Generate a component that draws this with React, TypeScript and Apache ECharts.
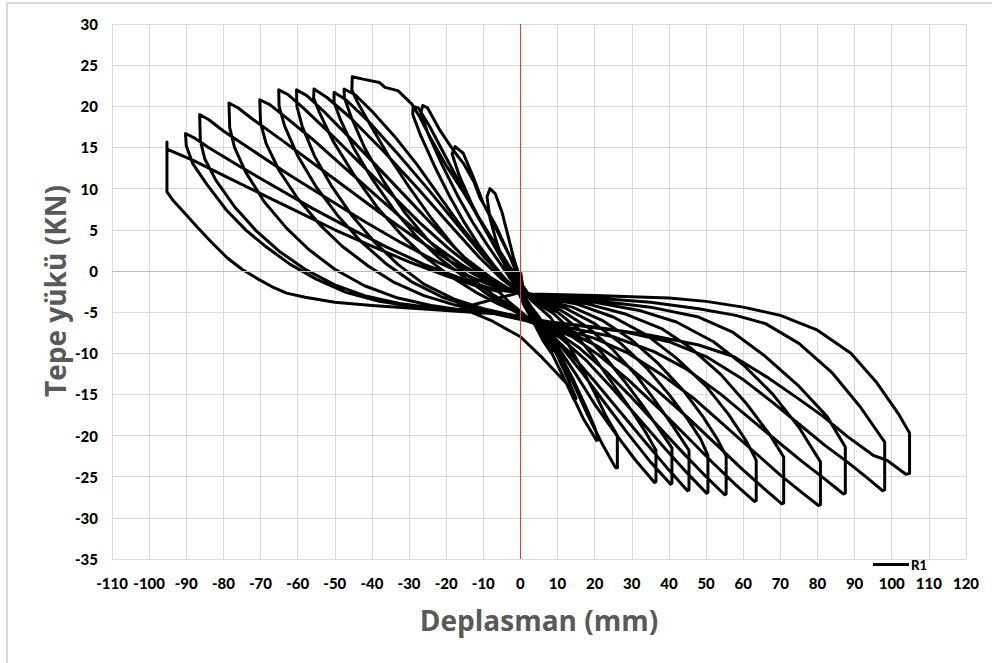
import React, { useEffect, useRef } from "react";
import * as echarts from "echarts";

type P = [number, number];

// Axis ticks
const xTicks = { min: -110, max: 120, interval: 10 };
const yTicks = { min: -35, max: 30, interval: 5 };
const xTitle = "Deplasman (mm)";
const yTitle = "Tepe yükü (KN)";
const seriesName = "R1";

// Hysteresis loops (displacement mm, load kN), in cycle order
const rightLobe01: P[] = [[1,-3],[3.5,-4.8],[6,-7.2],[8.8,-9.7],[8.2,-9.9],[6,-8.4],[3.5,-6.2],[1,-4.2]];
const leftLobe01: P[] = [[-0.5,-2.6],[-2.5,-1],[-4.5,1],[-6.5,3.6],[-8.2,6.4],[-9,9],[-8.2,10],[-6.8,9.4],[-5,7.2],[-3.3,4.2],[-1.8,1.5],[-0.6,-0.2],[0,-1.8]];
const rightLobe02: P[] = [[1,-3],[5,-6],[9,-9.4],[12.5,-12.8],[15,-15.5],[14.5,-15.7],[11.5,-12.8],[8,-9.6],[4.5,-6.6],[1.5,-4.6]];
const leftLobe02: P[] = [[0,-2.6],[-2,-0.8],[-5,1.4],[-9,4.6],[-13,8],[-16.5,11.6],[-18.4,14.2],[-17.6,15.1],[-15.4,14.3],[-12.7,11.4],[-10,8.2],[-6.3,4.9],[-2.8,1.7],[-0.6,-0.2],[0.3,-2.2]];
const rightLobe03: P[] = [[0.5,-3],[5,-5.6],[10,-9.6],[14,-13],[17.5,-16.4],[20,-19],[21,-20.5],[20.5,-20.6],[17,-18],[12.5,-13.7],[6,-10.6],[0,-8],[-8,-6],[-16,-4.5]];
const leftLobe03: P[] = [[0,-2.6],[-2,-1.4],[-5,0.6],[-9,3.2],[-13,6],[-17,9.2],[-21,12.8],[-25,16.8],[-26.8,19.2],[-26.3,20.1],[-25,19.8],[-21.7,17.1],[-18,14.6],[-15.4,13.1],[-12.5,10.8],[-10.9,8.9],[-8.5,7],[-6.4,5.3],[-2.8,1.7],[-1,-0.3],[0,-2]];
const rightLobe04: P[] = [[3,-3.6],[8,-5.6],[12,-8.2],[16,-11.4],[20,-14.8],[23,-17.6],[26.1,-20],[26.1,-23.9],[25.6,-23.9],[22,-21],[18,-17.4],[14,-13.4],[10,-9.8],[6,-7.2]];
const leftLobe04: P[] = [[0,-2.8],[-3,-1.6],[-7,0.6],[-11,3],[-15,5.8],[-19,9],[-23,12.6],[-27,16.6],[-29,19],[-28.9,20],[-27.5,19.8],[-24.5,17.6],[-21,14.6],[-17,11.2],[-13,7.8],[-9,4.6],[-5,1.6],[-2,-0.6],[0,-2]];
const rightLobe05: P[] = [[3,-3.5],[9,-5.2],[15,-7.8],[20,-10.6],[25,-13.8],[30,-17],[34,-19.8],[36.5,-21.8],[36.5,-25.6],[36.1,-25.7],[31,-23],[26,-20],[20,-16.2],[15,-12.6],[10,-9.2],[5,-6.8]];
const leftLobe05: P[] = [[-3,-3.8],[-7,-2],[-12,0.2],[-18,3],[-24,6.4],[-30,10.2],[-35,13.6],[-40,17.4],[-44,20.6],[-45.4,22],[-45.3,23.6],[-42.4,23.3],[-38,22.9],[-36.5,22.3],[-33,21.9],[-29.3,20.3],[-27,18.6],[-24.4,16.3],[-20,12.8],[-15.4,9.6],[-10,5.6],[-6.4,3],[-3,0.6],[-1,-0.7]];
const rightLobe06: P[] = [[3,-3.4],[10,-5],[16,-7.2],[22,-10],[28,-13.4],[33,-16.4],[37,-19],[40.8,-21.5],[40.8,-25.8],[40.4,-25.9],[35,-23.2],[29,-19.8],[23,-16.2],[17,-12.6],[11,-9.2],[6,-7]];
const leftLobe06: P[] = [[-2,-4.4],[-7,-3],[-13,-1],[-19,1.2],[-25,3.8],[-31,7],[-37,11],[-42,15],[-45.5,18.6],[-47.4,21],[-47.5,22.1],[-44.5,21.4],[-40,19.4],[-34,16.4],[-28,13],[-22,9.2],[-16,5.4],[-10,2],[-5,-0.6],[-1,-2.3]];
const rightLobe07: P[] = [[3,-3.3],[11,-4.8],[18,-6.8],[25,-9.6],[31,-12.6],[36,-15.6],[41,-18.8],[45.4,-21.8],[45.4,-26.6],[45,-26.7],[40,-24.2],[34,-21],[27,-17.2],[20,-13.4],[13,-9.8],[7,-7.2]];
const leftLobe07: P[] = [[-4,-4.2],[-9,-2.8],[-15,-0.8],[-22,1.6],[-28,4.2],[-34,7.4],[-40,11.2],[-45,15],[-48.5,18.4],[-50.2,20.5],[-50.2,21.7],[-47,20.8],[-41,18.2],[-33,14.2],[-25,10],[-17,5.6],[-10,1.8],[-4,-1],[-1,-2.3]];
const rightLobe08: P[] = [[3,-3.2],[12,-4.5],[20,-6.4],[27,-8.8],[34,-11.8],[40,-15],[45,-18],[48.5,-20.4],[50.5,-22.4],[50.5,-26.9],[50.1,-27],[45,-24.6],[39,-21.6],[32,-18],[25,-14.4],[18,-11],[11,-8.2],[6,-6.8]];
const leftLobe08: P[] = [[-2,-4.8],[-6,-4],[-12,-2.6],[-19,-0.6],[-26,1.8],[-32.5,4.6],[-38.7,7.8],[-45,11.8],[-50.5,15.8],[-54,19.1],[-55.7,21],[-55.6,22.1],[-52.2,21.1],[-46,18.7],[-37,14.6],[-28,10.2],[-19,5.6],[-11,1.6],[-5,-1],[-1,-2.4]];
const rightLobe09: P[] = [[3,-3.2],[14,-4.4],[22,-6],[30,-8.4],[37,-11.2],[44,-14.6],[49,-17.6],[53,-20.4],[55.4,-22.5],[55.4,-27.1],[55,-27.2],[50,-25],[44,-22.2],[37,-18.8],[30,-15.4],[23,-12.2],[16,-9.4],[9,-7.2]];
const leftLobe09: P[] = [[-4,-5.2],[-10,-4.6],[-18,-3.4],[-26,-1.6],[-33,0.8],[-39.5,3.6],[-45.5,6.8],[-51,10.4],[-55.5,14],[-58.8,17.6],[-60.2,20],[-60.3,22],[-57.5,21.3],[-53,19.4],[-46,16.2],[-38,12.4],[-30,8.6],[-22,4.8],[-15,1.6],[-8,-0.8],[-3,-2.2]];
const rightLobe10: P[] = [[3,-3.1],[15,-4],[25,-5.6],[34,-7.8],[42,-10.6],[50,-14],[56,-17.4],[61,-20.8],[63.5,-23],[63.5,-27.9],[63,-28],[58,-26],[52,-23.4],[45,-20.2],[37,-16.6],[29,-13.2],[21,-10.2],[14,-8],[7,-6.6]];
const leftLobe10: P[] = [[-6,-5.1],[-13,-4.4],[-21,-3.2],[-29,-1.4],[-36,0.8],[-43,3.6],[-49,6.6],[-55,10.2],[-60,14],[-63.5,17.6],[-65,20],[-65.1,22],[-62.5,21.4],[-58,19.6],[-51,16.6],[-43,13],[-35,9.4],[-27,5.8],[-19,2.6],[-12,0.1],[-5,-2]];
const rightLobe11: P[] = [[3,-3],[18,-4],[28,-5.2],[38,-7],[46,-9.4],[54,-12.6],[61,-16.2],[67,-19.8],[70.9,-22.6],[70.9,-28.2],[70.4,-28.3],[66,-26.6],[60,-24.2],[53,-21.2],[45,-17.8],[37,-14.6],[29,-11.6],[21,-9.2],[13,-7.4],[6,-6.5]];
const leftLobe11: P[] = [[-4,-5.2],[-10,-4.8],[-18,-4.1],[-26,-3],[-34,-1.4],[-41,0.6],[-48,3],[-54,5.6],[-60,8.8],[-65,12.2],[-68.5,15.5],[-70,18],[-70.2,20.8],[-67.5,20.2],[-63,18.6],[-56,16],[-48,12.8],[-40,9.6],[-32,6.4],[-24,3.4],[-16,0.8],[-9,-1.1],[-3,-2.5]];
const rightLobe12: P[] = [[3,-3],[20,-3.8],[32,-4.8],[42,-6.2],[52,-8.6],[60,-11.4],[68,-15],[75,-19],[80.8,-23.2],[80.8,-28.4],[80.3,-28.5],[76,-27],[70,-24.8],[63,-22],[55,-18.8],[47,-15.6],[38,-12.6],[29,-10],[20,-8.2],[11,-7],[5,-6.4]];
const leftLobe12: P[] = [[-7,-5.2],[-15,-4.8],[-24,-4.2],[-33,-3.3],[-42,-1.8],[-50,0.2],[-57,2.6],[-63,5.2],[-69,8.4],[-74,12],[-77,15],[-78.3,17.4],[-78.5,20.4],[-76,19.8],[-72,18.4],[-64,15.8],[-55,12.8],[-46,9.8],[-37,6.8],[-28,3.9],[-19,1.2],[-10,-1],[-4,-2.4]];
const rightLobe13: P[] = [[3,-3],[20,-3.6],[35,-4.4],[48,-5.6],[57,-7.4],[66,-10.4],[75,-14],[82.6,-17.7],[87.5,-21.4],[87.5,-27],[87,-27.1],[82,-25.3],[76,-23.2],[70,-21],[62,-18],[54,-15],[45,-12],[36,-9.8],[25,-8],[14,-7],[6,-6.4]];
const leftLobe13: P[] = [[-5,-5.2],[-12,-5],[-22,-4.6],[-32,-4],[-42,-3],[-50,-1.7],[-58,0.2],[-65,2.4],[-71,4.8],[-77,7.8],[-82,11],[-85,13.6],[-86.2,15.8],[-86.4,19],[-84,18.4],[-80,17],[-72,14.6],[-62,11.6],[-52,8.8],[-42,6],[-32,3.4],[-22,1],[-12,-1],[-5,-2.3]];
const rightLobe14: P[] = [[3,-2.8],[20,-3.3],[35,-3.8],[48,-4.6],[58,-5.4],[66,-6.4],[75,-8.8],[84,-12.4],[91.5,-16.5],[98.1,-20.8],[98.1,-26.6],[97.5,-26.7],[93,-25],[88,-23.2],[82,-21.2],[75,-18.6],[68,-16],[60,-13.2],[50,-10.4],[40,-8.6],[28,-7.4],[15,-6.6],[6,-6.2]];
const leftLobe14: P[] = [[-3,-5.3],[-9,-5.1],[-18,-4.8],[-28,-4.4],[-38,-3.7],[-47,-2.6],[-55,-1],[-62,0.8],[-68.4,2.9],[-73.8,4.9],[-79.2,7.4],[-84.6,10.6],[-88.2,13],[-90,15.2],[-90.2,16.7],[-88,16.2],[-84,15],[-76,12.8],[-66,10.2],[-56,7.6],[-46,5.2],[-36,2.9],[-26,0.8],[-16,-0.9],[-7,-2.3]];
const rightLobe15: P[] = [[3,-2.8],[20,-3],[40,-3.3],[50,-3.7],[60,-4.4],[70,-5.4],[80,-7.2],[89,-10],[96,-13.6],[102,-17.5],[104.8,-19.7],[104.8,-24.6],[103.8,-24.7],[98.7,-23],[95,-22.4],[88,-20.1],[81.6,-17.7],[75.4,-15.7],[66.4,-12.9],[57.4,-10.4],[48,-9],[35,-7.8],[20,-6.8],[8,-6.2]];
const leftLobe15: P[] = [[-3,-5.3],[-10,-5.1],[-20,-4.8],[-30,-4.5],[-40,-4.2],[-50,-3.8],[-58,-3.2],[-63,-2.7],[-67,-1.9],[-71,-0.9],[-75,0.2],[-79,1.6],[-83,3.4],[-87,5.3],[-91,7.3],[-93.6,8.6],[-95.2,9.6],[-95.2,15.65],[-95.2,14.8],[-88,13.4],[-80,11.6],[-70,9.4],[-60,7.2],[-50,5],[-40,3],[-30,1.1],[-20,-0.6],[-12,-1.8],[-5,-2.6]];

const lobes: P[][] = [
  rightLobe01, leftLobe01, rightLobe02, leftLobe02, rightLobe03, leftLobe03,
  rightLobe04, leftLobe04, rightLobe05, leftLobe05, rightLobe06, leftLobe06,
  rightLobe07, leftLobe07, rightLobe08, leftLobe08, rightLobe09, leftLobe09,
  rightLobe10, leftLobe10, rightLobe11, leftLobe11, rightLobe12, leftLobe12,
  rightLobe13, leftLobe13, rightLobe14, leftLobe14, rightLobe15, leftLobe15,
];

const tickFont = "Lato, 'Open Sans', sans-serif";
const titleFont = "'Open Sans', Lato, sans-serif";

export default function App() {
  const ref = useRef<HTMLDivElement>(null);
  useEffect(() => {
    if (!ref.current) return;
    const chart = echarts.init(ref.current, undefined, { renderer: "svg" });
    const data: P[] = [[0, 0]];
    lobes.forEach((l) => l.forEach((p) => data.push(p)));
    chart.setOption({
      animation: false,
      backgroundColor: "#ffffff",
      grid: { left: 112, right: 26, top: 24, bottom: 104, containLabel: false },
      xAxis: {
        type: "value",
        min: xTicks.min,
        max: xTicks.max,
        interval: xTicks.interval,
        axisLine: { show: false },
        axisTick: { show: false },
        splitLine: { show: true, lineStyle: { color: "#d9d9d9", width: 1 } },
        axisLabel: {
          color: "#000",
          fontFamily: tickFont,
          fontWeight: 900,
          fontSize: 15,
          margin: 16,
        },
      },
      yAxis: {
        type: "value",
        min: yTicks.min,
        max: yTicks.max,
        interval: yTicks.interval,
        axisLine: { show: false },
        axisTick: { show: false },
        splitLine: { show: true, lineStyle: { color: "#d9d9d9", width: 1 } },
        axisLabel: {
          color: "#000",
          fontFamily: tickFont,
          fontWeight: 900,
          fontSize: 15,
          margin: 14,
        },
      },
      legend: {
        data: [seriesName],
        left: 868,
        top: 553,
        icon: "rect",
        itemWidth: 36,
        itemHeight: 3,
        itemGap: 4,
        textStyle: { color: "#000", fontFamily: tickFont, fontWeight: 900, fontSize: 13, padding: [0, 0, 0, -3] },
      },
      graphic: [
        {
          type: "rect",
          shape: { x: 7, y: 3, width: 1100, height: 800 },
          style: { fill: "none", stroke: "#d9d9d9", lineWidth: 2 },
          silent: true,
        },
        {
          type: "text",
          x: 539,
          y: 620,
          style: {
            text: xTitle,
            fill: "#595959",
            font: `bold 28px ${titleFont}`,
            textAlign: "center",
            textVerticalAlign: "middle",
          },
        },
        {
          type: "text",
          x: 55,
          y: 291,
          rotation: Math.PI / 2,
          style: {
            text: yTitle,
            fill: "#595959",
            font: `bold 28px ${titleFont}`,
            textAlign: "center",
            textVerticalAlign: "middle",
          },
        },
      ],
      series: [
        {
          name: "ref",
          type: "line",
          data: [],
          z: 1,
          silent: true,
          markLine: {
            silent: true,
            symbol: ["none", "none"],
            label: { show: false },
            data: [
              { yAxis: 0, lineStyle: { color: "#bfbfbf", width: 1, type: "solid" } },
              { xAxis: 0, lineStyle: { color: "#ff3030", width: 1, type: "solid" } },
            ],
          },
        },
        {
          name: seriesName,
          type: "line",
          data,
          z: 3,
          showSymbol: false,
          symbol: "none",
          smooth: false,
          lineStyle: { color: "#000000", width: 3, join: "round" },
          itemStyle: { color: "#000000" },
        },
      ],
    });
    return () => chart.dispose();
  }, []);
  return (
    <div
      ref={ref}
      style={{ position: "absolute", left: 0, top: 0, width: 992, height: 663, background: "#fff" }}
    />
  );
}
